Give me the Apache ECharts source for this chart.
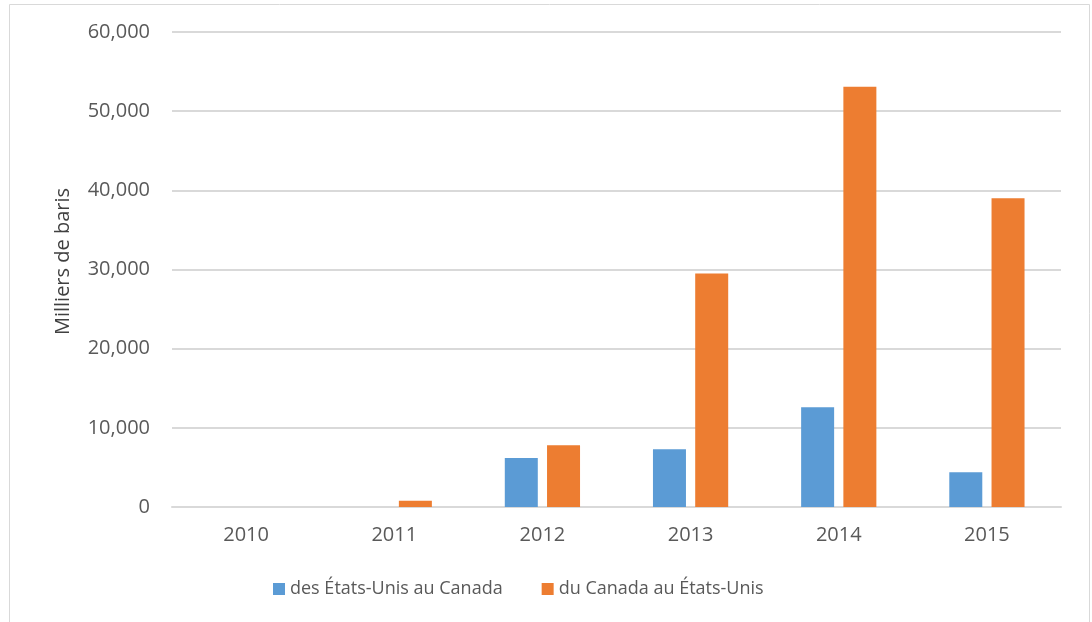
<!DOCTYPE html>
<html>
<head>
<meta charset="utf-8">
<script src="https://cdn.jsdelivr.net/npm/echarts@6/dist/echarts.min.js"></script>
<style>
  html, body { margin: 0; padding: 0; background: #fff; }
  #container { width: 1092px; height: 622px; }
</style>
</head>
<body>
<div id="container"></div>
<script>
var years = ['2010', '2011', '2012', '2013', '2014', '2015'];
var usToCanada = [0, 0, 6200, 7300, 12600, 4400];
var canadaToUs = [0, 800, 7800, 29500, 53100, 39000];
var seriesNames = ['des États-Unis au Canada', 'du Canada au États-Unis'];

var dom = document.getElementById('container');
var myChart = echarts.init(dom);

var font = '"Open Sans", "Noto Sans", sans-serif';

var option = {
    backgroundColor: '#fff',
    animation: false,
    textStyle: { fontFamily: font },
    graphic: [{
        type: 'rect',
        shape: { x: 9.5, y: 4.5, width: 1080, height: 640 },
        style: { fill: 'none', stroke: '#d9d9d9', lineWidth: 1 }
    }],
    grid: { left: 172, right: 31, top: 32, bottom: 115 },
    legend: {
        top: 575,
        left: 268,
        itemWidth: 12,
        itemHeight: 12,
        itemGap: 39,
        icon: 'rect',
        textStyle: { color: '#595959', fontSize: 18, fontFamily: font },
        data: seriesNames
    },
    xAxis: {
        type: 'category',
        data: years,
        axisLine: { lineStyle: { color: '#d9d9d9', width: 2 } },
        axisTick: { show: false },
        axisLabel: { color: '#595959', fontSize: 20, margin: 18 }
    },
    yAxis: {
        type: 'value',
        min: 0,
        max: 60000,
        interval: 10000,
        name: 'Milliers de baris',
        nameLocation: 'middle',
        nameGap: 99,
        nameTextStyle: { color: '#404040', fontSize: 20, padding: [0, 0, 0, 16] },
        axisLine: { show: false },
        axisTick: { show: false },
        axisLabel: {
            color: '#595959',
            fontSize: 20,
            margin: 22,
            formatter: function (v) { return v.toLocaleString('en-US'); }
        },
        splitLine: { lineStyle: { color: '#d9d9d9', width: 2 } }
    },
    series: [
        {
            name: seriesNames[0],
            type: 'bar',
            data: usToCanada,
            barWidth: 33,
            barGap: '28%',
            itemStyle: { color: '#5b9bd5' }
        },
        {
            name: seriesNames[1],
            type: 'bar',
            data: canadaToUs,
            barWidth: 33,
            itemStyle: { color: '#ed7d31' }
        }
    ]
};

myChart.setOption(option, true);
</script>
</body>
</html>
